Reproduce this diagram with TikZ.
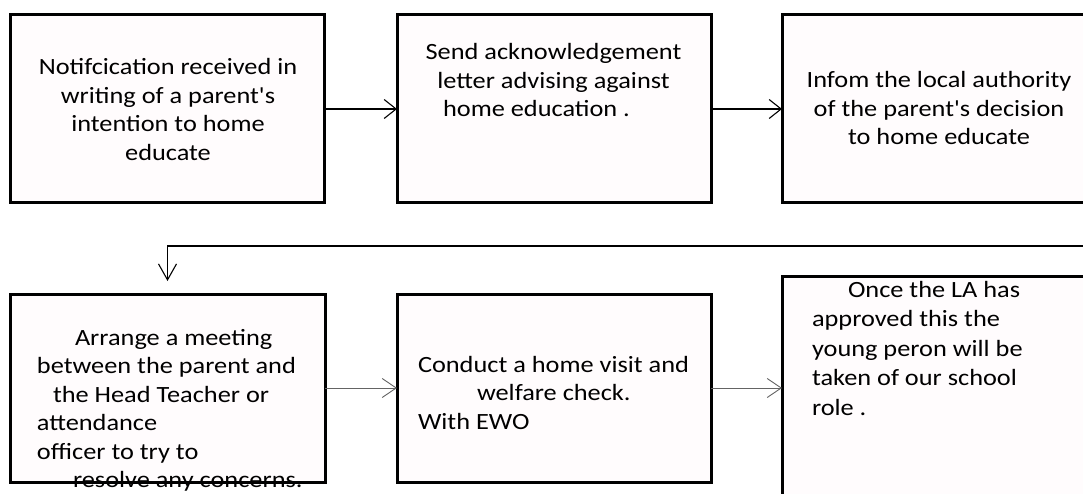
\documentclass[tikz,border=0pt]{standalone}
\usepackage{fontspec}
\setmainfont{Carlito}[FakeStretch=1.13,Ligatures=TeXOff]
\usetikzlibrary{arrows.meta}
\definecolor{boxfill}{RGB}{255,252,253}
\definecolor{thinline}{RGB}{100,100,100}
\begin{document}
\begin{tikzpicture}[x=1pt,y=-1pt,
  stepbox/.style={rectangle,draw=black,line width=3pt,fill=boxfill,inner sep=0pt,outer sep=0pt},
  txt/.style={inner sep=0pt,outer sep=0pt,font=\fontsize{23.3}{28.5}\selectfont},
  flow/.style={line width=1.3pt,-{Straight Barb[length=12pt,width=19pt,line width=1.1pt]}},
  flowthin/.style={draw=thinline,line width=0.9pt,-{Straight Barb[length=14pt,width=19pt]}},
  loopline/.style={line width=1.4pt,-{Straight Barb[length=16pt,width=18pt,line width=1.1pt]}},
]
\useasboundingbox (0,0) rectangle (1083,494);
\fill[white] (0,0) rectangle (1083,494);

% top row
\node[stepbox,minimum width=314pt,minimum height=188pt] (b1) at (167,109) {};
\node[stepbox,minimum width=314pt,minimum height=188pt] (b2) at (554,109) {};
\node[stepbox,minimum width=316pt,minimum height=188pt] (b3) at (940,109) {};

% bottom row
\node[stepbox,minimum width=315pt,minimum height=188pt] (b4) at (167.5,388) {};
\node[stepbox,minimum width=314pt,minimum height=188pt] (b5) at (554,388) {};
\node[stepbox,minimum width=318pt,minimum height=264pt] (b6) at (941,408) {};

% texts (anchor base = baseline of the last line)
\node[txt,anchor=base,align=center] (t1) at (168,160.5)
  {Notifcication received in\\ writing of a parent's\\ intention to home\\ educate};
\node[txt,anchor=base,align=center] (t2) at (553.5,117)
  {Send acknowledgement\\ letter advising against\\ home education .\hspace*{34pt}};
\node[txt,anchor=base,align=center] (t3) at (939,145)
  {Infom the local authority\\ of the parent's decision\\ to home educate};
\node[txt,anchor=base west,align=left] (t4) at (37,487.5)
  {\hspace*{38pt}Arrange a meeting\\ between the parent and\\ \hspace*{16pt}the Head Teacher or\\ attendance\\ officer to try to\\ \hspace*{36pt}resolve any concerns.};
\node[txt,anchor=base west,align=left] (t5) at (418,429)
  {Conduct a home visit and\\ \hspace*{59pt}welfare check.\\ With EWO};
\node[txt,font=\fontsize{23.3}{29.5}\selectfont,anchor=base west,align=left] (t6) at (812,415)
  {\hspace*{36pt}Once the LA has\\ approved this the\\ young peron will be\\ taken of our school\\ role .};

% connectors
\draw[flow] (b1.east) -- (b2.west);
\draw[flow] (b2.east) -- (b3.west);
\draw[flowthin] (b4.east) -- (b5.west);
\draw[flowthin] (b5.east) -- (b5.east -| b6.west);
\coordinate (cstart) at (1100,246);
\draw[loopline,shorten >=13pt] (cstart) -| (b4.north);
\end{tikzpicture}
\end{document}
